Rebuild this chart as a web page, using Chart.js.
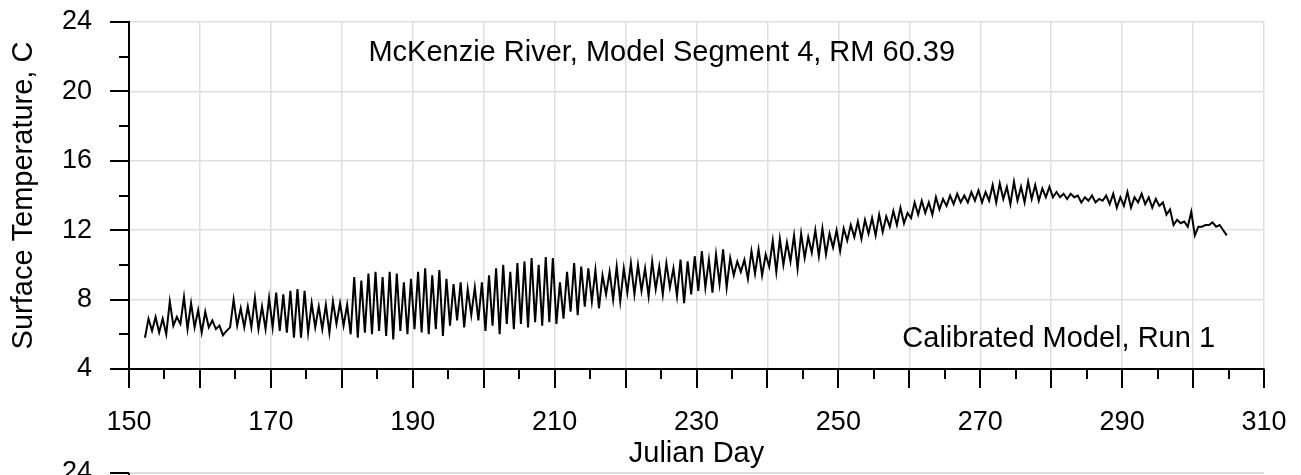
<!DOCTYPE html>
<html>
<head>
<meta charset="utf-8">
<script src="https://cdn.jsdelivr.net/npm/chart.js@4/dist/chart.umd.min.js"></script>
<style>
  html, body { margin: 0; padding: 0; background: #fff; }
  canvas { display: block; }
</style>
</head>
<body>
<canvas id="tempchart" width="1301" height="475"></canvas>
<script>
// Julian days of the record
const days = [
  152, 153, 154, 155, 156, 157, 158, 159, 160, 161, 162, 163, 164, 165, 166, 167, 168, 169, 170, 171,
  172, 173, 174, 175, 176, 177, 178, 179, 180, 181, 182, 183, 184, 185, 186, 187, 188, 189, 190, 191,
  192, 193, 194, 195, 196, 197, 198, 199, 200, 201, 202, 203, 204, 205, 206, 207, 208, 209, 210, 211,
  212, 213, 214, 215, 216, 217, 218, 219, 220, 221, 222, 223, 224, 225, 226, 227, 228, 229, 230, 231,
  232, 233, 234, 235, 236, 237, 238, 239, 240, 241, 242, 243, 244, 245, 246, 247, 248, 249, 250, 251,
  252, 253, 254, 255, 256, 257, 258, 259, 260, 261, 262, 263, 264, 265, 266, 267, 268, 269, 270, 271,
  272, 273, 274, 275, 276, 277, 278, 279, 280, 281, 282, 283, 284, 285, 286, 287, 288, 289, 290, 291,
  292, 293, 294, 295, 296, 297, 298, 299, 300, 301, 302, 303, 304
];

// daily low (early morning) surface temperature, C
const dayLow = [
  5.8, 6.2, 6.1, 6.0, 6.5, 6.6, 6.3, 6.4, 6.1, 6.4, 6.3, 5.95, 6.4, 6.5, 6.4, 6.4, 6.3, 6.3, 6.4, 6.2,
  6.1, 5.8, 5.8, 6.1, 6.4, 6.3, 6.1, 6.6, 6.5, 6.0, 5.8, 6.1, 6.0, 6.2, 5.9, 5.7, 6.2, 6.0, 6.3, 6.1,
  6.0, 6.3, 5.9, 6.5, 6.8, 6.4, 7.1, 6.8, 6.2, 6.5, 6.0, 6.6, 6.3, 6.6, 6.4, 6.7, 6.5, 6.7, 6.6, 6.9,
  7.3, 7.1, 7.6, 7.9, 7.5, 8.3, 8.0, 7.9, 8.4, 8.3, 8.5, 8.2, 8.6, 8.3, 8.7, 8.2, 7.8, 8.3, 8.5, 8.7,
  8.4, 8.9, 8.7, 9.4, 9.6, 9.2, 9.5, 9.4, 9.9, 9.6, 10.0, 10.2, 9.8, 10.4, 10.7, 10.5, 10.6, 11.0, 10.8, 11.4,
  11.6, 11.5, 11.8, 11.7, 11.9, 12.2, 12.3, 12.4, 12.7, 12.9, 13.0, 12.9, 13.2, 13.4, 13.5, 13.6, 13.6, 13.7, 13.6, 13.7,
  13.6, 13.8, 13.5, 13.7, 13.6, 13.8, 13.7, 13.9, 13.9, 13.9, 13.8, 13.9, 13.6, 13.7, 13.6, 13.7, 13.5, 13.3, 13.4, 13.3,
  13.6, 13.5, 13.3, 13.4, 12.9, 12.3, 12.4, 12.2, 11.7, 12.2, 12.3, 12.2, 12.0
];

// daily high (afternoon) surface temperature, C
const dayHigh = [
  6.9, 7.0, 6.9, 7.9, 7.0, 8.15, 7.8, 7.4, 7.3, 6.8, 6.5, 6.2, 8.0, 7.5, 7.6, 8.1, 7.6, 8.1, 8.4, 8.3,
  8.5, 8.6, 8.5, 7.8, 7.6, 7.7, 7.9, 7.8, 7.7, 9.3, 9.1, 9.5, 9.6, 9.3, 9.6, 9.5, 9.0, 9.2, 9.6, 9.8,
  9.4, 9.7, 9.2, 8.9, 9.0, 8.6, 8.7, 9.0, 9.4, 9.8, 10.0, 9.6, 10.1, 10.2, 10.4, 10.0, 10.45, 10.4, 9.0, 9.6,
  10.1, 9.9, 9.8, 9.7, 9.4, 9.6, 9.9, 9.8, 10.1, 10.0, 9.8, 10.2, 9.9, 10.1, 9.8, 10.3, 10.2, 10.5, 10.8, 10.3,
  10.6, 10.9, 10.4, 10.2, 10.3, 10.8, 10.9, 10.6, 11.4, 11.5, 11.3, 11.7, 11.8, 11.6, 12.0, 12.1, 11.8, 12.0, 12.1, 12.3,
  12.5, 12.6, 12.7, 12.9, 12.8, 13.1, 13.3, 13.0, 13.6, 13.7, 13.6, 13.9, 13.8, 14.0, 14.1, 14.0, 14.2, 14.3, 14.2, 14.6,
  14.7, 14.5, 14.8, 14.5, 14.8, 14.6, 14.4, 14.5, 14.2, 14.1, 14.1, 14.0, 13.9, 14.0, 13.8, 14.0, 14.1, 13.9, 14.2, 13.9,
  14.1, 13.9, 13.8, 13.6, 13.2, 12.6, 12.5, 13.06, 12.2, 12.3, 12.45, 12.3, 11.7
];

const xTickLabels = [150, 170, 190, 210, 230, 250, 270, 290, 310];
const yTickLabels = [4, 8, 12, 16, 20, 24];

const titleText = 'McKenzie River, Model Segment 4, RM 60.39';
const noteText = 'Calibrated Model, Run 1';

// build the trace: low in the morning, high in the afternoon
const points = [];
days.forEach((d, i) => {
  points.push({ x: d + 0.25, y: dayLow[i] });
  points.push({ x: d + 0.75, y: dayHigh[i] });
});

const fontFamily = '"Liberation Sans", Arial, sans-serif';
Chart.defaults.font.family = fontFamily;
Chart.defaults.color = '#000';

// tick marks, text notes and the top of the next panel
const decorations = {
  id: 'decorations',
  afterDraw(chart) {
    const ctx = chart.ctx;
    const xs = chart.scales.x;
    const ys = chart.scales.y;
    const area = chart.chartArea;
    ctx.save();
    ctx.strokeStyle = '#000';
    ctx.lineWidth = 2;
    ctx.beginPath();
    for (let v = 4; v <= 24; v += 2) {
      const py = Math.round(ys.getPixelForValue(v));
      const len = v % 4 === 0 ? 19 : 10;
      ctx.moveTo(area.left - len, py);
      ctx.lineTo(area.left, py);
    }
    for (let v = 150; v <= 310; v += 5) {
      const px = Math.round(xs.getPixelForValue(v));
      const len = v % 10 === 0 ? 19 : 10;
      ctx.moveTo(px, area.bottom);
      ctx.lineTo(px, area.bottom + len);
    }
    ctx.stroke();

    ctx.fillStyle = '#000';
    ctx.font = '29px ' + fontFamily;
    ctx.textBaseline = 'middle';
    ctx.textAlign = 'center';
    ctx.fillText(titleText, xs.getPixelForValue(225.1), ys.getPixelForValue(22.2));
    ctx.textAlign = 'right';
    ctx.fillText(noteText, xs.getPixelForValue(303.1), ys.getPixelForValue(5.75));

    // top edge of the panel below
    const nextTop = area.bottom + 104;
    ctx.strokeStyle = '#dedede';
    ctx.lineWidth = 2;
    ctx.beginPath();
    ctx.moveTo(area.left, nextTop);
    ctx.lineTo(area.right, nextTop);
    ctx.stroke();
    ctx.strokeStyle = '#000';
    ctx.beginPath();
    ctx.moveTo(area.left - 19, nextTop);
    ctx.lineTo(area.left, nextTop);
    ctx.moveTo(area.left, nextTop);
    ctx.lineTo(area.left, nextTop + 10);
    ctx.stroke();
    ctx.font = '27px ' + fontFamily;
    ctx.textAlign = 'right';
    ctx.fillText('24', area.left - 37, nextTop);
    ctx.restore();
  }
};

new Chart(document.getElementById('tempchart'), {
  type: 'line',
  data: {
    datasets: [
      {
        label: 'Surface Temperature',
        data: points,
        borderColor: '#000',
        borderWidth: 2,
        pointRadius: 0,
        tension: 0,
        fill: false,
      },
    ],
  },
  options: {
    responsive: false,
    animation: false,
    events: [],
    layout: {
      padding: { top: 22, right: 37, bottom: 0, left: 0 },
    },
    plugins: {
      legend: { display: false },
      tooltip: { enabled: false },
    },
    scales: {
      x: {
        type: 'linear',
        min: 150,
        max: 310,
        afterFit: (scale) => {
          scale.height = 106;
          scale.paddingLeft = 0;
          scale.paddingRight = 0;
        },
        ticks: {
          stepSize: 10,
          autoSkip: false,
          maxRotation: 0,
          padding: 37,
          font: { size: 27 },
          callback: (v) => (xTickLabels.includes(v) ? String(v) : ''),
        },
        grid: { color: '#dedede', lineWidth: 1.5, drawTicks: false },
        border: { display: true, color: '#000', width: 2 },
        title: {
          display: true,
          text: 'Julian Day',
          font: { size: 29 },
          padding: { top: 0, bottom: 4 },
        },
      },
      y: {
        min: 4,
        max: 24,
        afterFit: (scale) => {
          scale.width = 129;
          scale.paddingTop = 0;
          scale.paddingBottom = 0;
        },
        ticks: {
          stepSize: 4,
          padding: 37,
          font: { size: 27 },
          callback: (v) => (yTickLabels.includes(v) ? String(v) : ''),
        },
        grid: { color: '#dedede', lineWidth: 1.5, drawTicks: false },
        border: { display: true, color: '#000', width: 2 },
        title: {
          display: true,
          text: 'Surface Temperature, C',
          font: { size: 29 },
          padding: { top: 7, bottom: 0 },
        },
      },
    },
  },
  plugins: [decorations],
});
</script>
</body>
</html>
